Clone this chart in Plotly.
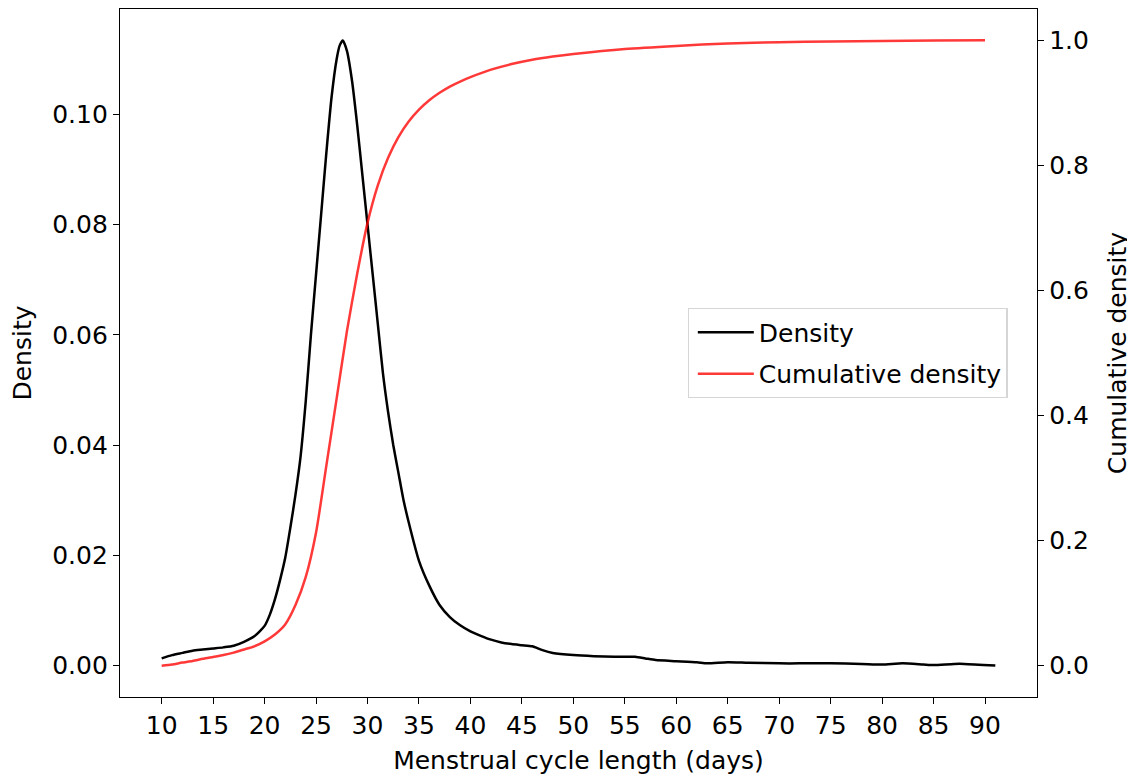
import plotly.graph_objects as go

# Density curve (left axis)
density_x = [10, 11, 12, 13, 14, 15, 16, 17, 18, 19, 20, 20.5, 21, 21.5, 22, 22.5, 23, 23.5,
             24, 24.5, 25, 25.5, 26, 26.5, 27, 27.3, 27.6, 28, 28.5, 29, 29.5, 30, 30.5, 31,
             31.5, 32, 32.5, 33, 33.5, 34, 35, 36, 37, 38, 39, 40, 41, 42, 43, 44, 45, 46, 47,
             48, 50, 52, 54, 56, 57, 58, 60, 62, 63, 65, 67, 70, 72, 75, 78, 80, 82, 84, 85,
             87, 88, 91]
density_y = [0.0013, 0.0019, 0.0023, 0.0027, 0.0029, 0.0031, 0.0033, 0.0036, 0.0043, 0.0053,
             0.0072, 0.0092, 0.012, 0.0155, 0.0195, 0.025, 0.031, 0.038, 0.048, 0.060, 0.071,
             0.082, 0.093, 0.103, 0.110, 0.1125, 0.1134, 0.1115, 0.106, 0.098, 0.089, 0.080,
             0.071, 0.062, 0.053, 0.046, 0.040, 0.035, 0.030, 0.026, 0.019, 0.0145, 0.011,
             0.0088, 0.0073, 0.0062, 0.0054, 0.0047, 0.0042, 0.0039, 0.0037, 0.0035, 0.0028,
             0.0023, 0.0019, 0.0017, 0.0016, 0.0016, 0.0013, 0.0010, 0.0008, 0.0006, 0.0004,
             0.0006, 0.0005, 0.0004, 0.0004, 0.0004, 0.0003, 0.0002, 0.0004, 0.0002, 0.0001,
             0.0003, 0.0003, 0.0000]

# Cumulative density curve (right axis)
cum_x = [10, 11, 12, 13, 14, 15, 16, 17, 18, 19, 20, 21, 22, 23, 24, 25, 26, 27, 28, 29, 30,
         31, 32, 33, 34, 35, 36, 37, 38, 39, 40, 42, 44, 46, 48, 50, 55, 60, 65, 70, 75, 80,
         85, 90]
cum_y = [0.0, 0.002, 0.005, 0.0075, 0.011, 0.014, 0.017, 0.021, 0.026, 0.031, 0.039, 0.050,
         0.066, 0.097, 0.142, 0.213, 0.320, 0.427, 0.535, 0.627, 0.708, 0.768, 0.812, 0.845,
         0.870, 0.889, 0.904, 0.916, 0.926, 0.934, 0.941, 0.953, 0.962, 0.969, 0.974, 0.978,
         0.986, 0.991, 0.995, 0.997, 0.998, 0.999, 0.9995, 1.0]

x_ticks = list(range(10, 95, 5))
left_ticks = [0.00, 0.02, 0.04, 0.06, 0.08, 0.10]
right_ticks = [0.0, 0.2, 0.4, 0.6, 0.8, 1.0]

FONT = "DejaVu Sans"
FS = 25

fig = go.Figure()
fig.add_trace(go.Scatter(x=density_x, y=density_y, mode="lines", name="Density",
                         legendgroup="a",
                         line=dict(color="black", width=2.5, shape="spline", smoothing=0.6),
                         yaxis="y"))
fig.add_trace(go.Scatter(x=cum_x, y=cum_y, mode="lines", name="Cumulative density",
                         legendgroup="b",
                         line=dict(color="rgba(255,0,0,0.78)", width=2.5, shape="spline",
                                   smoothing=0.6),
                         yaxis="y2"))

axis_common = dict(showgrid=False, zeroline=False, ticks="outside", ticklen=6, tickwidth=1.2,
                   tickcolor="black", linecolor="black", linewidth=1.3, showline=True,
                   tickfont=dict(family=FONT, size=FS, color="black"))

# page body has an 8px margin, so the figure is sized to fit the 1135x780 window
fig.update_layout(
    width=1127, height=772,
    margin=dict(l=112, r=98, t=1, b=83),
    paper_bgcolor="white", plot_bgcolor="white",
    font=dict(family=FONT, size=FS, color="black"),
    xaxis=dict(range=[5.95, 95.05], tickvals=x_ticks, mirror=True,
               title=dict(text="Menstrual cycle length (days)", font=dict(family=FONT, size=FS),
                          standoff=12),
               **axis_common),
    yaxis=dict(range=[-0.0057, 0.1191], tickvals=left_ticks, tickformat=".2f",
               title=dict(text="Density", font=dict(family=FONT, size=FS), standoff=15),
               **axis_common),
    yaxis2=dict(range=[-0.05, 1.05], tickvals=right_ticks, tickformat=".1f", overlaying="y",
                side="right",
                title=dict(text="Cumulative density", font=dict(family=FONT, size=FS),
                           standoff=20),
                **axis_common),
    legend=dict(x=0.619, y=0.565, xanchor="left", yanchor="top",
                bgcolor="rgba(255,255,255,0.8)", bordercolor="#d6d6d6", borderwidth=1.2,
                font=dict(family=FONT, size=FS, color="black"), tracegroupgap=6,
                itemwidth=56, indentation=4),
    showlegend=True,
)

fig.write_html("out.html")
